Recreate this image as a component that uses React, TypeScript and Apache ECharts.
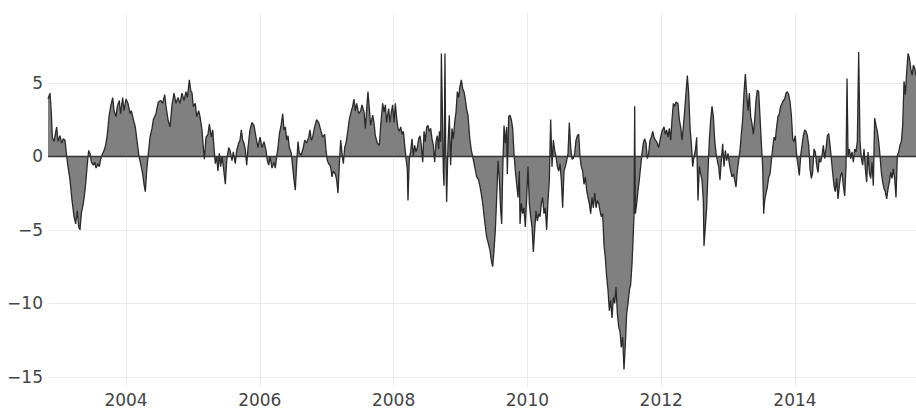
import React, { useEffect, useRef } from "react";
import * as echarts from "echarts";

// Decimal-year positions of the observations
const years: number[] = [
  2002.834, 2002.864, 2002.884, 2002.899, 2002.924, 2002.964, 2002.984, 2003.013, 2003.038, 2003.063,
  2003.088, 2003.113, 2003.133, 2003.163, 2003.193, 2003.223, 2003.248, 2003.272, 2003.293, 2003.312,
  2003.332, 2003.362, 2003.382, 2003.402, 2003.422, 2003.442, 2003.462, 2003.482, 2003.512, 2003.532,
  2003.552, 2003.581, 2003.601, 2003.621, 2003.651, 2003.671, 2003.696, 2003.721, 2003.746, 2003.771,
  2003.801, 2003.821, 2003.851, 2003.870, 2003.900, 2003.920, 2003.950, 2003.970, 2004.000, 2004.030,
  2004.060, 2004.080, 2004.110, 2004.139, 2004.169, 2004.194, 2004.219, 2004.249, 2004.269, 2004.289,
  2004.309, 2004.329, 2004.359, 2004.389, 2004.409, 2004.448, 2004.483, 2004.518, 2004.548, 2004.578,
  2004.598, 2004.628, 2004.658, 2004.688, 2004.718, 2004.747, 2004.777, 2004.807, 2004.837, 2004.867,
  2004.897, 2004.917, 2004.947, 2004.967, 2004.987, 2005.006, 2005.036, 2005.056, 2005.086, 2005.106,
  2005.136, 2005.156, 2005.171, 2005.196, 2005.226, 2005.246, 2005.276, 2005.296, 2005.315, 2005.335,
  2005.355, 2005.375, 2005.395, 2005.415, 2005.435, 2005.455, 2005.485, 2005.505, 2005.535, 2005.555,
  2005.584, 2005.604, 2005.634, 2005.654, 2005.684, 2005.704, 2005.724, 2005.744, 2005.764, 2005.784,
  2005.804, 2005.824, 2005.854, 2005.883, 2005.913, 2005.943, 2005.973, 2006.003, 2006.033, 2006.063,
  2006.093, 2006.113, 2006.133, 2006.153, 2006.182, 2006.212, 2006.232, 2006.252, 2006.272, 2006.292,
  2006.322, 2006.342, 2006.362, 2006.382, 2006.402, 2006.422, 2006.442, 2006.471, 2006.491, 2006.511,
  2006.531, 2006.551, 2006.571, 2006.591, 2006.621, 2006.651, 2006.671, 2006.701, 2006.731, 2006.750,
  2006.770, 2006.790, 2006.820, 2006.850, 2006.880, 2006.910, 2006.940, 2006.970, 2006.990, 2007.010,
  2007.030, 2007.059, 2007.079, 2007.099, 2007.129, 2007.149, 2007.169, 2007.189, 2007.209, 2007.229,
  2007.249, 2007.269, 2007.289, 2007.318, 2007.338, 2007.358, 2007.388, 2007.408, 2007.428, 2007.448,
  2007.478, 2007.508, 2007.528, 2007.558, 2007.578, 2007.598, 2007.617, 2007.637, 2007.657, 2007.687,
  2007.707, 2007.727, 2007.757, 2007.787, 2007.807, 2007.837, 2007.857, 2007.877, 2007.896, 2007.926,
  2007.946, 2007.966, 2007.986, 2008.006, 2008.026, 2008.046, 2008.066, 2008.086, 2008.106, 2008.126,
  2008.146, 2008.166, 2008.185, 2008.205, 2008.215, 2008.235, 2008.255, 2008.275, 2008.295, 2008.315,
  2008.335, 2008.355, 2008.375, 2008.395, 2008.415, 2008.435, 2008.455, 2008.474, 2008.494, 2008.514,
  2008.534, 2008.554, 2008.574, 2008.594, 2008.614, 2008.634, 2008.654, 2008.674, 2008.684, 2008.704,
  2008.714, 2008.729, 2008.744, 2008.754, 2008.768, 2008.778, 2008.793, 2008.813, 2008.833, 2008.853,
  2008.873, 2008.893, 2008.913, 2008.933, 2008.953, 2008.973, 2008.993, 2009.013, 2009.033, 2009.052,
  2009.072, 2009.092, 2009.112, 2009.137, 2009.162, 2009.182, 2009.212, 2009.242, 2009.272, 2009.302,
  2009.332, 2009.361, 2009.391, 2009.421, 2009.441, 2009.461, 2009.481, 2009.501, 2009.521, 2009.541,
  2009.561, 2009.581, 2009.601, 2009.616, 2009.631, 2009.651, 2009.670, 2009.690, 2009.700, 2009.720,
  2009.740, 2009.760, 2009.780, 2009.800, 2009.820, 2009.840, 2009.860, 2009.880, 2009.890, 2009.910,
  2009.929, 2009.949, 2009.969, 2009.989, 2010.009, 2010.029, 2010.049, 2010.069, 2010.089, 2010.109,
  2010.129, 2010.149, 2010.169, 2010.189, 2010.209, 2010.228, 2010.248, 2010.268, 2010.288, 2010.308,
  2010.328, 2010.348, 2010.368, 2010.388, 2010.408, 2010.428, 2010.448, 2010.468, 2010.488, 2010.507,
  2010.527, 2010.547, 2010.567, 2010.587, 2010.607, 2010.627, 2010.647, 2010.667, 2010.687, 2010.707,
  2010.727, 2010.747, 2010.767, 2010.786, 2010.806, 2010.826, 2010.846, 2010.866, 2010.886, 2010.906,
  2010.926, 2010.946, 2010.966, 2010.986, 2011.006, 2011.026, 2011.046, 2011.066, 2011.085, 2011.105,
  2011.125, 2011.145, 2011.165, 2011.185, 2011.205, 2011.225, 2011.245, 2011.265, 2011.285, 2011.305,
  2011.325, 2011.345, 2011.365, 2011.384, 2011.404, 2011.424, 2011.444, 2011.464, 2011.484, 2011.504,
  2011.524, 2011.544, 2011.564, 2011.579, 2011.594, 2011.604, 2011.614, 2011.634, 2011.654, 2011.673,
  2011.693, 2011.713, 2011.733, 2011.753, 2011.773, 2011.793, 2011.813, 2011.833, 2011.853, 2011.873,
  2011.893, 2011.913, 2011.933, 2011.962, 2011.992, 2012.012, 2012.042, 2012.062, 2012.082, 2012.102,
  2012.122, 2012.142, 2012.162, 2012.182, 2012.202, 2012.222, 2012.251, 2012.271, 2012.291, 2012.311,
  2012.331, 2012.351, 2012.371, 2012.391, 2012.411, 2012.431, 2012.451, 2012.471, 2012.491, 2012.511,
  2012.531, 2012.550, 2012.570, 2012.590, 2012.610, 2012.630, 2012.640, 2012.660, 2012.680, 2012.700,
  2012.720, 2012.740, 2012.760, 2012.780, 2012.800, 2012.820, 2012.840, 2012.859, 2012.879, 2012.899,
  2012.919, 2012.939, 2012.959, 2012.979, 2012.999, 2013.019, 2013.039, 2013.059, 2013.079, 2013.099,
  2013.118, 2013.138, 2013.158, 2013.178, 2013.198, 2013.218, 2013.238, 2013.258, 2013.278, 2013.298,
  2013.318, 2013.338, 2013.358, 2013.378, 2013.398, 2013.417, 2013.437, 2013.457, 2013.477, 2013.497,
  2013.517, 2013.532, 2013.547, 2013.567, 2013.587, 2013.607, 2013.627, 2013.647, 2013.667, 2013.687,
  2013.706, 2013.726, 2013.746, 2013.766, 2013.786, 2013.806, 2013.826, 2013.846, 2013.866, 2013.886,
  2013.906, 2013.926, 2013.946, 2013.966, 2013.985, 2014.005, 2014.025, 2014.045, 2014.065, 2014.085,
  2014.105, 2014.125, 2014.145, 2014.165, 2014.185, 2014.205, 2014.225, 2014.245, 2014.264, 2014.284,
  2014.304, 2014.324, 2014.344, 2014.364, 2014.384, 2014.404, 2014.424, 2014.444, 2014.464, 2014.484,
  2014.504, 2014.524, 2014.543, 2014.563, 2014.583, 2014.603, 2014.623, 2014.643, 2014.663, 2014.683,
  2014.703, 2014.723, 2014.743, 2014.763, 2014.778, 2014.793, 2014.813, 2014.833, 2014.853, 2014.872,
  2014.892, 2014.912, 2014.932, 2014.952, 2014.972, 2014.992, 2015.012, 2015.032, 2015.052, 2015.072,
  2015.092, 2015.112, 2015.132, 2015.152, 2015.171, 2015.191, 2015.211, 2015.231, 2015.251, 2015.271,
  2015.291, 2015.311, 2015.331, 2015.351, 2015.371, 2015.391, 2015.411, 2015.431, 2015.450, 2015.470,
  2015.490, 2015.510, 2015.530, 2015.550, 2015.570, 2015.590, 2015.610, 2015.630, 2015.650, 2015.670,
  2015.690, 2015.710, 2015.730, 2015.750, 2015.770, 2015.789, 2015.809,
];

// Series values
const values: number[] = [
  3.9, 4.3, 2.9, 1.3, 1.0, 2.0, 1.0, 1.4, 0.9, 1.2,
  1.1, 0, -0.7, -1.6, -3.0, -4.1, -4.6, -3.7, -4.8, -5.0,
  -3.9, -3.2, -2.5, -1.6, -0.5, 0.4, 0.2, -0.4, -0.6, -0.4,
  -0.8, -0.5, -0.7, -0.2, 0.2, 0.4, 0.75, 1.5, 2.7, 3.4,
  4.0, 3.1, 2.7, 3.4, 3.8, 2.9, 4.0, 3.1, 3.9, 3.6,
  2.9, 3.1, 2.5, 2.0, 0.9, 0, -0.5, -1.2, -1.9, -2.4,
  -1.0, 0, 1.3, 1.9, 2.5, 2.9, 3.7, 3.8, 3.6, 4.2,
  3.4, 2.5, 2.0, 3.5, 4.3, 3.6, 4.0, 3.6, 4.3, 3.8,
  4.4, 4.0, 5.2, 4.5, 4.3, 3.4, 3.6, 2.7, 3.1, 2.7,
  1.8, 0.6, -0.2, 1.3, 1.5, 2.2, 1.3, 1.8, 0.6, -0.5,
  0, -1.0, 0.2, -0.7, 0, -0.7, -1.9, -0.3, 0.6, 0.4,
  -0.3, 0.3, -0.5, 0.4, 0.9, 1.1, 1.8, 1.1, 0.9, 0.4,
  -0.6, 0.6, 1.8, 2.3, 2.1, 1.3, 0.6, 1.3, 0.6, 1.0,
  0.4, -0.3, -0.6, 0, -0.8, -0.4, -0.8, 0, 0.6, 1.5,
  2.2, 2.9, 1.8, 2.0, 1.1, 1.4, 0.6, 0.2, -0.7, -1.6,
  -2.3, -0.5, 1.0, 0.2, 0.1, 0.6, 1.1, 0.9, 1.3, 1.8,
  1.1, 1.3, 2.0, 2.5, 2.3, 1.8, 1.3, 1.5, 0.4, -0.3,
  -0.5, -0.7, -1.4, -1.0, -1.2, -1.6, -2.5, -0.5, 1.1, 0.2,
  -0.5, 0.6, 0.9, 1.8, 2.5, 2.9, 3.4, 3.9, 3.1, 3.6,
  2.9, 3.1, 3.5, 3.0, 1.9, 3.25, 4.4, 3.25, 2.1, 2.8,
  2.3, 1.4, 0.9, 0.75, 2.1, 3.6, 3.0, 3.5, 2.3, 3.25,
  2.3, 3.0, 3.5, 2.3, 3.6, 2.6, 1.9, 1.7, 2.0, 1.5,
  1.7, 0.75, -0.15, -0.85, -3.0, -0.15, 0.3, 1.2, 0.05, 0.75,
  0.3, 0.6, 1.2, 1.4, 0.75, -0.4, 1.7, 1.0, 2.0, 2.1,
  1.7, 1.9, 1.2, 0.75, -0.4, 1.0, 1.4, 0.5, 1.7, 1.0,
  7.0, 3.0, -1.1, -2.0, 7.0, 0.75, -3.1, 0.75, 2.8, -0.6,
  1.9, 1.2, 2.3, 3.0, 4.4, 4.0, 4.8, 5.2, 4.6, 4.4,
  3.9, 3.2, 2.8, 1.3, 0.4, 0, -0.7, -1.4, -1.6, -2.3,
  -3.2, -4.4, -5.5, -6.0, -6.4, -7.1, -7.5, -6.4, -5.0, -2.8,
  -0.3, -1.6, -3.7, -4.6, -1.0, 2.1, 0.9, 2.0, -1.2, 2.7,
  2.8, 2.5, 1.9, 0.2, -1.0, -1.9, -2.8, -1.0, -4.6, -3.2,
  -3.9, -3.5, -4.8, -2.8, -0.7, -3.2, -4.1, -4.8, -6.5, -5.0,
  -3.7, -4.4, -3.9, -4.1, -3.2, -2.8, -3.9, -3.5, -5.0, -3.0,
  -1.6, 2.5, -0.7, 1.1, 0.4, 0, -0.7, -1.0, -0.5, -1.6,
  -3.5, -1.0, -0.7, -0.3, 0.2, 2.3, 0.6, -0.2, -0.15, 0.2,
  1.1, 1.4, 1.5, 0, -0.7, -1.0, -1.9, -1.4, -2.3, -2.8,
  -3.2, -3.9, -2.8, -3.5, -2.5, -3.5, -3.0, -3.2, -3.7, -4.1,
  -3.9, -6.0, -6.9, -8.2, -9.1, -10.5, -9.8, -11.0, -9.6, -10.0,
  -8.9, -10.7, -11.6, -11.9, -13.0, -12.3, -14.5, -12.8, -10.7, -10.0,
  -9.1, -8.7, -7.3, -5.7, -3.9, 3.4, -3.9, -3.2, -2.3, -1.6,
  -0.7, 0.2, 0.9, 1.2, 0.9, -0.15, 0.2, 1.1, 1.3, 1.7,
  1.3, 1.1, 1.0, 0.6, 1.3, 1.7, 2.0, 1.5, 1.8, 1.3,
  1.9, 1.1, 2.5, 3.6, 3.4, 3.7, 3.6, 2.5, 2.0, 1.1,
  2.0, 3.1, 4.3, 5.5, 4.3, 2.0, 0.85, -0.7, 0, 0.4,
  1.3, -3.0, -0.7, -1.2, -1.6, -3.0, -6.1, -4.8, -3.5, -1.0,
  1.1, 2.5, 3.4, 2.7, 1.1, 0.2, -0.3, -0.7, -1.6, -0.3,
  0.85, -0.7, 0.4, -0.3, 0.2, -0.5, -1.0, -1.4, -1.2, -1.6,
  -2.1, -1.0, -0.3, 0.4, 1.5, 2.5, 4.3, 5.6, 4.3, 3.1,
  4.3, 2.7, 2.2, 1.5, 2.5, 3.8, 4.5, 4.4, 2.7, 0.9,
  -0.7, -3.9, -3.0, -2.5, -2.1, -1.4, -1.2, -0.3, 0.6, 1.3,
  1.1, 2.0, 2.7, 2.9, 3.4, 3.6, 3.8, 3.9, 4.3, 4.4,
  4.2, 3.7, 2.8, 1.2, 1.0, 1.4, 0.05, -0.6, -1.3, 0.05,
  0.75, 1.4, 1.8, 1.7, 1.4, 0.75, -0.85, -1.5, -1.1, 0.5,
  0.3, -0.6, -1.1, -0.15, -0.4, 0.05, 0.75, -0.15, 0.5, 1.4,
  1.55, 0.75, -0.15, -1.1, -2.0, -2.4, -1.5, -2.9, -2.0, -1.3,
  -1.1, -2.0, -2.7, -0.6, 5.3, 0.05, 0.5, -0.15, 0.3, -0.4,
  0.5, 0.3, 1.0, 7.1, 1.0, -0.15, -0.6, 0.5, -0.85, -1.75,
  0.3, -1.1, -1.5, -0.4, -2.0, 2.6, 2.1, 1.7, 1.0, 0.05,
  -1.1, -1.75, -2.2, -2.4, -2.9, -2.2, -1.75, -1.1, -1.5, -0.85,
  -1.5, -2.8, 0.05, 0.3, 0.75, 1.0, 2.1, 5.1, 4.2, 5.75,
  7.0, 6.7, 6.0, 5.5, 6.2, 6.0, 5.5,
];

const xTickYears: number[] = [2004, 2006, 2008, 2010, 2012, 2014];
const yTickValues: number[] = [-15, -10, -5, 0, 5];

const X_MIN = 2002.834;
const X_MAX = 2015.809;
const Y_MIN = -15.69;
const Y_MAX = 9.75;

export default function App() {
  const ref = useRef<HTMLDivElement>(null);

  useEffect(() => {
    if (!ref.current) return;
    const chart = echarts.init(ref.current, null, { renderer: "svg" });
    const data = years.map((y, i) => [y, values[i]]);
    const labelFont = {
      fontFamily: "DejaVu Sans",
      fontSize: 17,
      color: "#444",
    };
    chart.setOption({
      animation: false,
      backgroundColor: "#fff",
      grid: { left: 48, right: 0, top: 13, bottom: 21, containLabel: false },
      xAxis: {
        type: "value",
        min: X_MIN,
        max: X_MAX,
        axisLine: { show: false },
        axisTick: { show: false, customValues: xTickYears },
        axisLabel: {
          ...labelFont,
          margin: 4,
          customValues: xTickYears,
          formatter: (v: number) => String(Math.round(v)),
        },
        splitLine: { show: true, lineStyle: { color: "#ebebeb", width: 1 } },
      },
      yAxis: {
        type: "value",
        min: Y_MIN,
        max: Y_MAX,
        axisLine: { show: false },
        axisTick: { show: false, customValues: yTickValues },
        axisLabel: {
          ...labelFont,
          margin: 5,
          customValues: yTickValues,
          formatter: (v: number) => String(Math.round(v)).replace("-", "\u2212"),
        },
        splitLine: { show: true, lineStyle: { color: "#ebebeb", width: 1 } },
      },
      series: [
        {
          type: "line",
          data,
          symbol: "none",
          showSymbol: false,
          lineStyle: { color: "#2a2a2a", width: 1.3 },
          areaStyle: { color: "#808080", opacity: 1, origin: 0 },
          markLine: {
            silent: true,
            symbol: ["none", "none"],
            label: { show: false },
            lineStyle: { color: "#333", width: 1.3, type: "solid" },
            data: [{ yAxis: 0 }],
          },
        },
      ],
    });
    return () => chart.dispose();
  }, []);

  return (
    <div
      ref={ref}
      style={{ position: "fixed", left: 0, top: 0, width: 916, height: 408 }}
    />
  );
}
